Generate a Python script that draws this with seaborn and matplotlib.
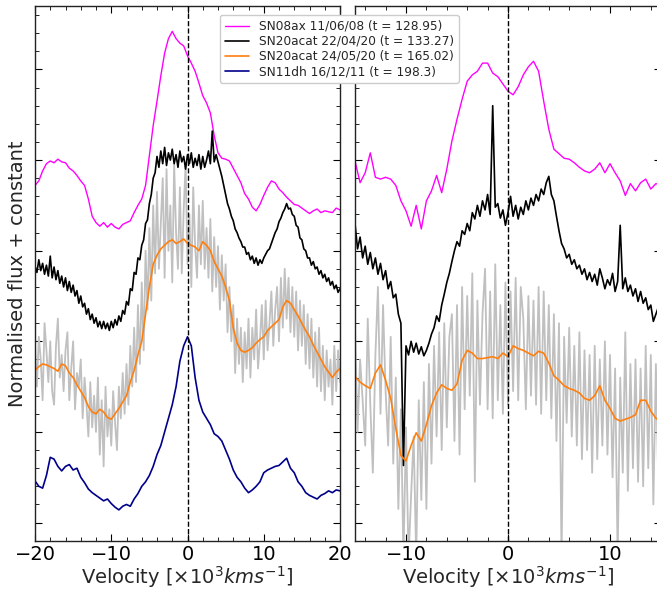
import numpy as np
import pandas as pd
import matplotlib
matplotlib.use("Agg")
import matplotlib.pyplot as plt
import seaborn as sns
from matplotlib.ticker import MultipleLocator

sns.set_style("ticks")
plt.rcParams["font.family"] = ["DejaVu Sans"]
plt.rcParams["mathtext.fontset"] = "dejavusans"

# ---------------------------------------------------------------------------
# Spectra in velocity space (10^3 km/s), normalised flux + vertical offset
# ---------------------------------------------------------------------------
labels = [
    "SN08ax 11/06/08 (t = 128.95)",
    "SN20acat 22/04/20 (t = 133.27)",
    "SN20acat 24/05/20 (t = 165.02)",
    "SN11dh 16/12/11 (t = 198.3)",
]
colors = ["#ff00ff", "#000000", "#ff7f0e", "#00008b"]

# velocity grids of the resampled spectra
v_left = np.arange(-20, 20.001, 0.5)
v_left_fine = np.arange(-20, 20.001, 0.25)
v_right = np.arange(-15.5, 15.501, 0.5)
v_right_fine = np.arange(-15.5, 15.501, 0.25)

# ---- left panel -----------------------------------------------------------
sn08ax_left = [
    3.72, 3.77, 3.88, 3.96, 3.99, 3.97, 4.01, 3.98, 3.97, 3.91,
    3.88, 3.83, 3.77, 3.72, 3.57, 3.38, 3.31, 3.27, 3.31, 3.26,
    3.30, 3.26, 3.24, 3.29, 3.31, 3.33, 3.42, 3.50, 3.57, 3.72,
    4.05, 4.38, 4.65, 4.93, 5.18, 5.34, 5.42, 5.34, 5.29, 5.26,
    5.15, 5.07, 4.98, 4.85, 4.71, 4.63, 4.52, 4.27, 4.08, 4.02,
    4.01, 3.99, 3.91, 3.83, 3.75, 3.63, 3.57, 3.48, 3.44, 3.51,
    3.61, 3.70, 3.77, 3.75, 3.68, 3.64, 3.59, 3.55, 3.51, 3.50,
    3.47, 3.44, 3.41, 3.44, 3.46, 3.42, 3.44, 3.43, 3.42, 3.47,
    3.45,
]

sn20acat_apr_left = [
    2.83, 2.76, 2.90, 2.78, 2.86, 2.74, 2.84, 2.72,
    2.94, 2.70, 2.82, 2.68, 2.78, 2.64, 2.72, 2.60,
    2.70, 2.56, 2.66, 2.54, 2.62, 2.50, 2.56, 2.42,
    2.50, 2.38, 2.42, 2.30, 2.36, 2.24, 2.30, 2.20,
    2.26, 2.16, 2.22, 2.14, 2.22, 2.14, 2.20, 2.12,
    2.22, 2.15, 2.24, 2.18, 2.28, 2.22, 2.34, 2.30,
    2.44, 2.40, 2.58, 2.56, 2.76, 2.74, 2.92, 2.90,
    3.06, 3.12, 3.30, 3.34, 3.52, 3.62, 3.80, 3.86,
    4.04, 3.92, 4.10, 3.96, 4.14, 3.94, 4.08, 4.00,
    4.12, 3.96, 4.06, 3.92, 4.10, 3.98, 4.04, 3.90,
    4.06, 3.96, 4.08, 3.92, 4.02, 3.94, 4.06, 3.90,
    4.04, 3.92, 4.00, 4.10, 3.96, 4.32, 3.98, 4.06,
    3.98, 3.90, 3.82, 3.72, 3.62, 3.52, 3.46, 3.38,
    3.33, 3.24, 3.20, 3.14, 3.10, 3.04, 3.04, 2.96,
    2.98, 2.90, 2.94, 2.86, 2.92, 2.84, 2.90, 2.86,
    2.92, 2.96, 3.00, 3.02, 3.08, 3.14, 3.20, 3.24,
    3.32, 3.36, 3.42, 3.46, 3.52, 3.46, 3.47, 3.40,
    3.38, 3.28, 3.26, 3.14, 3.12, 3.02, 3.00, 2.92,
    2.92, 2.84, 2.88, 2.80, 2.82, 2.74, 2.78, 2.70,
    2.74, 2.66, 2.70, 2.62, 2.66, 2.58, 2.62, 2.54,
    2.58,
]

sn20acat_may_left_raw = [
    1.95, 1.50, 2.05, 1.80, 1.35, 2.20, 1.90, 1.55,
    2.00, 1.45, 1.30, 1.95, 2.25, 1.60, 1.85, 1.45,
    1.90, 2.10, 1.35, 1.70, 2.00, 1.25, 1.65, 1.50,
    1.80, 1.15, 1.60, 1.30, 0.95, 1.55, 1.05, 1.40,
    1.00, 1.60, 0.75, 1.35, 0.62, 1.50, 0.95, 1.25,
    0.85, 1.45, 1.10, 0.80, 1.50, 1.15, 1.65, 1.20,
    1.75, 1.30, 1.95, 1.50, 2.15, 1.55, 2.40, 1.75,
    2.65, 1.90, 3.00, 2.35, 3.25, 2.45, 3.50, 2.75,
    3.65, 2.80, 3.30, 3.80, 2.70, 3.90, 3.00, 3.50,
    2.65, 3.95, 3.20, 2.80, 3.70, 2.75, 3.45, 3.95,
    2.85, 3.40, 2.60, 3.70, 3.05, 2.70, 3.50, 2.85,
    3.55, 2.80, 3.25, 2.70, 3.35, 2.55, 3.15, 2.60,
    3.05, 2.35, 2.95, 2.45, 2.85, 2.10, 2.60, 2.00,
    2.40, 1.65, 2.25, 1.75, 2.15, 1.55, 2.10, 1.70,
    2.25, 1.60, 2.15, 1.80, 2.35, 1.70, 2.00, 2.40,
    1.80, 2.45, 1.90, 2.20, 2.55, 1.95, 2.35, 2.60,
    2.00, 2.70, 2.15, 2.80, 2.25, 2.70, 2.10, 2.60,
    2.05, 2.55, 1.90, 2.45, 1.95, 2.40, 1.75, 2.30,
    1.70, 2.25, 1.60, 2.10, 1.50, 2.15, 1.45, 1.95,
    1.35, 1.90, 1.50, 1.80, 1.30, 1.95, 1.45, 1.90,
    1.55,
]

sn20acat_may_left = [
    1.68, 1.72, 1.75, 1.74, 1.72, 1.70, 1.67, 1.75, 1.73, 1.65,
    1.60, 1.52, 1.45, 1.38, 1.28, 1.22, 1.20, 1.25, 1.22, 1.16,
    1.14, 1.20, 1.26, 1.33, 1.40, 1.55, 1.68, 1.85, 2.00, 2.30,
    2.60, 2.85, 2.95, 3.02, 3.06, 3.10, 3.12, 3.08, 3.10, 3.13,
    3.08, 3.06, 3.04, 3.00, 3.10, 3.06, 3.00, 2.88, 2.80, 2.72,
    2.60, 2.45, 2.15, 1.98, 1.90, 1.88, 1.90, 1.93, 1.98, 2.02,
    2.05, 2.12, 2.16, 2.20, 2.24, 2.38, 2.45, 2.42, 2.35, 2.28,
    2.20, 2.12, 2.05, 1.96, 1.88, 1.80, 1.72, 1.66, 1.60, 1.66,
    1.70,
]

sn11dh_left = [
    0.46, 0.40, 0.38, 0.52, 0.72, 0.70, 0.62, 0.57, 0.62, 0.64,
    0.58, 0.60, 0.50, 0.44, 0.37, 0.33, 0.30, 0.27, 0.24, 0.26,
    0.21, 0.17, 0.14, 0.18, 0.20, 0.18, 0.26, 0.32, 0.40, 0.45,
    0.52, 0.62, 0.75, 0.85, 1.00, 1.15, 1.30, 1.50, 1.78, 1.95,
    2.05, 1.95, 1.60, 1.35, 1.22, 1.15, 1.08, 0.98, 0.95, 0.90,
    0.80, 0.70, 0.58, 0.50, 0.45, 0.38, 0.33, 0.36, 0.40, 0.45,
    0.55, 0.58, 0.60, 0.62, 0.63, 0.67, 0.71, 0.60, 0.55, 0.45,
    0.40, 0.33, 0.30, 0.28, 0.26, 0.30, 0.32, 0.35, 0.33, 0.36,
    0.35,
]

# ---- right panel ----------------------------------------------------------
sn08ax_right = [
    3.99, 3.99, 3.75, 3.86, 4.08, 3.81, 3.79, 3.81, 3.79, 3.72,
    3.55, 3.44, 3.27, 3.50, 3.24, 3.55, 3.66, 3.83, 3.64, 3.90,
    4.21, 4.45, 4.67, 4.87, 4.94, 4.98, 5.07, 5.07, 4.96, 4.92,
    4.84, 4.76, 4.72, 4.81, 4.94, 5.03, 5.09, 4.98, 4.65, 4.34,
    4.12, 4.07, 4.02, 4.01, 3.97, 3.92, 3.88, 3.86, 3.90, 3.97,
    3.86, 3.96, 3.86, 3.77, 3.61, 3.74, 3.66, 3.75, 3.79, 3.68,
    3.74, 3.72, 3.72,
]

sn20acat_apr_right = [
    3.05, 3.20,
    3.30, 3.02, 3.15, 2.92, 3.05, 2.85, 2.98, 2.80,
    2.92, 2.74, 2.86, 2.68, 2.78, 2.58, 2.66, 2.48,
    2.52, 2.30, 2.20, 0.63, 1.95, 1.85, 2.00, 1.88,
    1.98, 1.86, 1.94, 1.84, 1.90, 1.98, 2.08, 2.15,
    2.28, 2.22, 2.40, 2.52, 2.65, 2.75, 2.88, 3.00,
    3.10, 3.05, 3.22, 3.18, 3.30, 3.22, 3.42, 3.35,
    3.50, 3.38, 3.55, 3.45, 3.62, 3.40, 4.60, 3.48,
    3.52, 3.36, 3.45, 3.28, 3.42, 3.60, 3.38, 3.50,
    3.35, 3.48, 3.40, 3.55, 3.45, 3.58, 3.50, 3.62,
    3.55, 3.68, 3.62, 3.75, 3.82, 3.62, 3.55, 3.38,
    3.22, 3.08, 3.02, 2.92, 2.96, 2.85, 2.90, 2.80,
    2.84, 2.74, 2.80, 2.68, 2.76, 2.66, 2.74, 2.62,
    2.80, 2.70, 2.58, 2.68, 2.62, 2.75, 2.55, 2.66,
    3.28, 2.58, 2.70, 2.55, 2.62, 2.50, 2.58, 2.44,
    2.55, 2.42, 2.48, 2.35, 2.40, 2.22, 2.30, 2.38,
    2.28, 2.32, 2.25,
]

sn20acat_may_right_raw = [
    1.90, 1.15,
    2.15, 1.00, 1.80, 1.35, 0.85, 2.25, 1.30, 0.55,
    1.85, 2.60, 1.20, 2.40, 1.45, 0.85, 2.05, 0.65,
    1.60, 0.15, 1.25, -0.40, 1.05, -0.40, 0.30, 0.95,
    -0.40, 1.35, 0.25, 1.55, 0.15, 1.75, 0.65, 1.95,
    0.95, 2.10, 0.80, 2.20, 1.05, 2.05, 2.30, 0.90,
    2.40, 0.75, 2.60, 1.25, 2.50, 1.40, 2.75, 0.45,
    2.45, 1.30, 2.30, 2.80, 1.25, 2.55, 1.15, 2.85,
    1.35, 2.40, 1.20, 2.65, 1.30, 2.55, 1.45, 2.70,
    1.35, 2.60, 2.25, 1.25, 2.50, 1.40, 2.45, 1.30,
    2.60, 1.20, 2.55, 1.35, 2.40, 1.15, 2.30, 0.90,
    2.20, -0.40, 2.05, 1.10, 2.15, 0.95, 1.95, 0.85,
    2.10, 0.70, 1.90, 0.80, 1.85, 0.55, 1.95, 0.70,
    1.80, 0.85, 2.00, 0.75, 1.85, 0.50, 1.70, -0.40,
    1.60, 0.55, 2.10, 0.35, 1.75, 0.60, 1.80, 0.45,
    1.70, 0.40, 1.95, 0.60, 1.85, 0.20, 1.75, 0.35,
    1.80, 0.45, 1.70,
]

sn20acat_may_right = [
    1.61, 1.61, 1.55, 1.51, 1.48, 1.65, 1.74, 1.57, 1.37, 1.04,
    0.74, 0.68, 0.85, 0.99, 0.90, 1.08, 1.29, 1.43, 1.52, 1.48,
    1.46, 1.53, 1.79, 1.90, 1.87, 1.81, 1.81, 1.82, 1.83, 1.81,
    1.87, 1.83, 1.95, 1.92, 1.90, 1.87, 1.84, 1.89, 1.87, 1.76,
    1.62, 1.57, 1.51, 1.48, 1.46, 1.43, 1.37, 1.35, 1.40, 1.51,
    1.35, 1.26, 1.15, 1.12, 1.14, 1.16, 1.19, 1.35, 1.35, 1.23,
    1.15, 1.12, 1.12,
]


def draw_panel(ax, v_fine, raw, smooth_series, with_labels):
    # noisy unsmoothed spectrum underneath
    sns.lineplot(x=v_fine, y=raw, ax=ax, color="#c0c0c0", lw=1.3,
                 sort=False, estimator=None, zorder=1)
    for (vel, flux), col, lab, lw in smooth_series:
        sns.lineplot(x=vel, y=flux, ax=ax, color=col, lw=lw, sort=False,
                     estimator=None, zorder=2,
                     label=lab if with_labels else None)
    ax.axvline(0, color="black", ls="--", lw=1.0, zorder=3)


fig = plt.figure(figsize=(6.57, 5.90), dpi=100)
W, H = 657, 590
ax_l = fig.add_axes([35 / W, 49.3 / H, 305 / W, 534.7 / H])
ax_r = fig.add_axes([355 / W, 49.3 / H, 306 / W, 534.7 / H])

draw_panel(
    ax_l, v_left_fine, sn20acat_may_left_raw,
    [
        ((v_left, sn08ax_left), colors[0], labels[0], 1.0),
        ((v_left_fine, sn20acat_apr_left), colors[1], labels[1], 1.2),
        ((v_left, sn20acat_may_left), colors[2], labels[2], 1.2),
        ((v_left, sn11dh_left), colors[3], labels[3], 1.2),
    ],
    True,
)
draw_panel(
    ax_r, v_right_fine, sn20acat_may_right_raw,
    [
        ((v_right, sn08ax_right), colors[0], None, 1.0),
        ((v_right_fine, sn20acat_apr_right), colors[1], None, 1.2),
        ((v_right, sn20acat_may_right), colors[2], None, 1.2),
    ],
    False,
)

ax_l.set_xlim(-20, 20)
ax_r.set_xlim(-15, 15)
xlab = r"Velocity [$\times10^3 kms^{-1}$]"
for ax in (ax_l, ax_r):
    ax.set_ylim(-0.2, 5.7)
    ax.xaxis.set_major_locator(MultipleLocator(10))
    ax.xaxis.set_minor_locator(MultipleLocator(2))
    ax.yaxis.set_major_locator(MultipleLocator(1))
    ax.yaxis.set_minor_locator(MultipleLocator(0.2))
    ax.tick_params(which="both", direction="in", top=True, right=True,
                   labelleft=False, labelsize=14, colors="black", pad=3)
    ax.tick_params(which="major", length=5)
    ax.tick_params(which="minor", length=3)
    ax.set_xlabel(xlab, fontsize=14, labelpad=0)
    ax.set_ylabel("")
    for sp in ax.spines.values():
        sp.set_color("#222222")
        sp.set_linewidth(1.0)

ax_l.set_ylabel("Normalised flux + constant", fontsize=14, labelpad=6)

handles, labs = ax_l.get_legend_handles_labels()
if ax_l.get_legend() is not None:
    ax_l.get_legend().remove()
fig.legend(handles, labs, loc="upper left",
           bbox_to_anchor=(214 / W, 1 - 9 / H), fontsize=8.7,
           labelspacing=0.17, handlelength=2.0, borderpad=0.4,
           framealpha=1.0, edgecolor="#cccccc")

fig.savefig("out.png", dpi=100)
